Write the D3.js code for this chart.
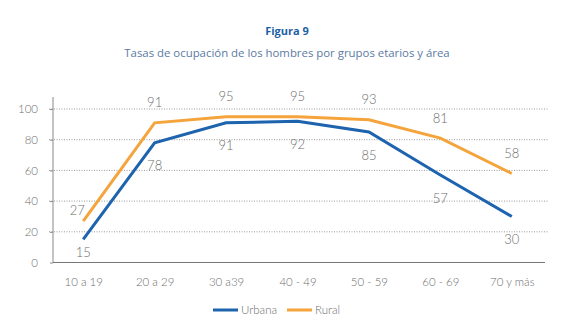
<!DOCTYPE html>
<html><head><meta charset="utf-8">
<script src="https://cdn.jsdelivr.net/npm/d3@7"></script>
<style>body{margin:0;background:#fff}svg{display:block}</style>
</head><body>
<svg id="c" width="563" height="331"></svg>
<script>
const categories = ["10 a 19","20 a 29","30 a39","40 - 49","50 - 59","60 - 69","70 y más"];
const urbana = [15,78,91,92,85,57,30];
const rural = [27,91,95,95,93,81,58];
const yTicks = [0,20,40,60,80,100];
const seriesNames = ["Urbana","Rural"];
const title = "Figura 9";
const subtitle = "Tasas de ocupación de los hombres por grupos etarios y área";

const svg = d3.select("#c");
const font = "Lato, 'DejaVu Sans', sans-serif";
const blue = "#1d63ad", orange = "#f5a43c", gray = "#6e6e6e";

svg.append("text").attr("x",287).attr("y",35).attr("text-anchor","middle")
  .attr("font-family","'Open Sans', sans-serif").attr("font-weight","bold").attr("font-size",11)
  .attr("fill","#1d5fa6").text(title);
svg.append("text").attr("x",287).attr("y",57).attr("text-anchor","middle")
  .attr("font-family","'Open Sans', sans-serif").attr("font-size",11.4)
  .attr("fill","#5b7aa3").text(subtitle);

const x = d3.scalePoint().domain(categories).range([47.5,547.5]).padding(0.5);
const y = d3.scaleLinear().domain([0,100]).range([262.5,109]);

// gridlines
svg.append("g").selectAll("line").data(yTicks.filter(d=>d>0)).join("line")
  .attr("x1",49).attr("x2",548).attr("y1",d=>y(d)).attr("y2",d=>y(d))
  .attr("stroke","#9a9a9a").attr("stroke-width",1).attr("stroke-dasharray","1,1.5");

// y axis
const ya = svg.append("g").attr("transform","translate(53,0)")
  .call(d3.axisLeft(y).tickValues(yTicks).tickSize(3).tickPadding(12));
ya.select(".domain").attr("stroke","#888").attr("d","M0,97V262.5");
ya.selectAll(".tick line").attr("stroke","#888");
ya.selectAll("text").attr("font-family",font).attr("font-size",11.5).attr("fill",gray).attr("font-weight",300);

// x axis
const xa = svg.append("g").attr("transform","translate(0,262.5)")
  .call(d3.axisBottom(x).tickSize(0).tickPadding(15));
xa.select(".domain").attr("stroke","#777").attr("stroke-width",1).attr("d","M53,0H545");
xa.selectAll("text").attr("font-family",font).attr("font-size",11.5).attr("fill",gray).attr("font-weight",300);

const line = d3.line().x((d,i)=>x(categories[i])).y(d=>y(d));
svg.append("path").datum(rural).attr("d",line).attr("fill","none").attr("stroke",orange).attr("stroke-width",3);
svg.append("path").datum(urbana).attr("d",line).attr("fill","none").attr("stroke",blue).attr("stroke-width",3);

// labels
svg.append("g").selectAll("text").data(rural).join("text")
  .attr("x",(d,i)=>x(categories[i]) - (i===0?6:0))
  .attr("y",(d,i)=>y(d) - (i===0?11:20))
  .attr("dy","0.35em").attr("text-anchor","middle")
  .attr("font-family",font).attr("font-size",13).attr("font-weight",300).attr("fill",gray)
  .text(d=>d);
svg.append("g").selectAll("text").data(urbana).join("text")
  .attr("x",(d,i)=>x(categories[i]))
  .attr("y",(d,i)=>y(d) + (i===0?13:23))
  .attr("dy","0.35em").attr("text-anchor","middle")
  .attr("font-family",font).attr("font-size",13).attr("font-weight",300).attr("fill",gray)
  .text(d=>d);

// legend
const lg = svg.append("g").attr("transform","translate(0,310)");
[[seriesNames[0],blue,213],[seriesNames[1],orange,287]].forEach(([n,c,x0])=>{
  lg.append("line").attr("x1",x0).attr("x2",x0+25).attr("y1",0).attr("y2",0).attr("stroke",c).attr("stroke-width",3);
  lg.append("text").attr("x",x0+28).attr("y",0).attr("dy","0.35em")
    .attr("font-family",font).attr("font-size",11.5).attr("font-weight",300).attr("fill",gray).text(n);
});
</script>
</body></html>
